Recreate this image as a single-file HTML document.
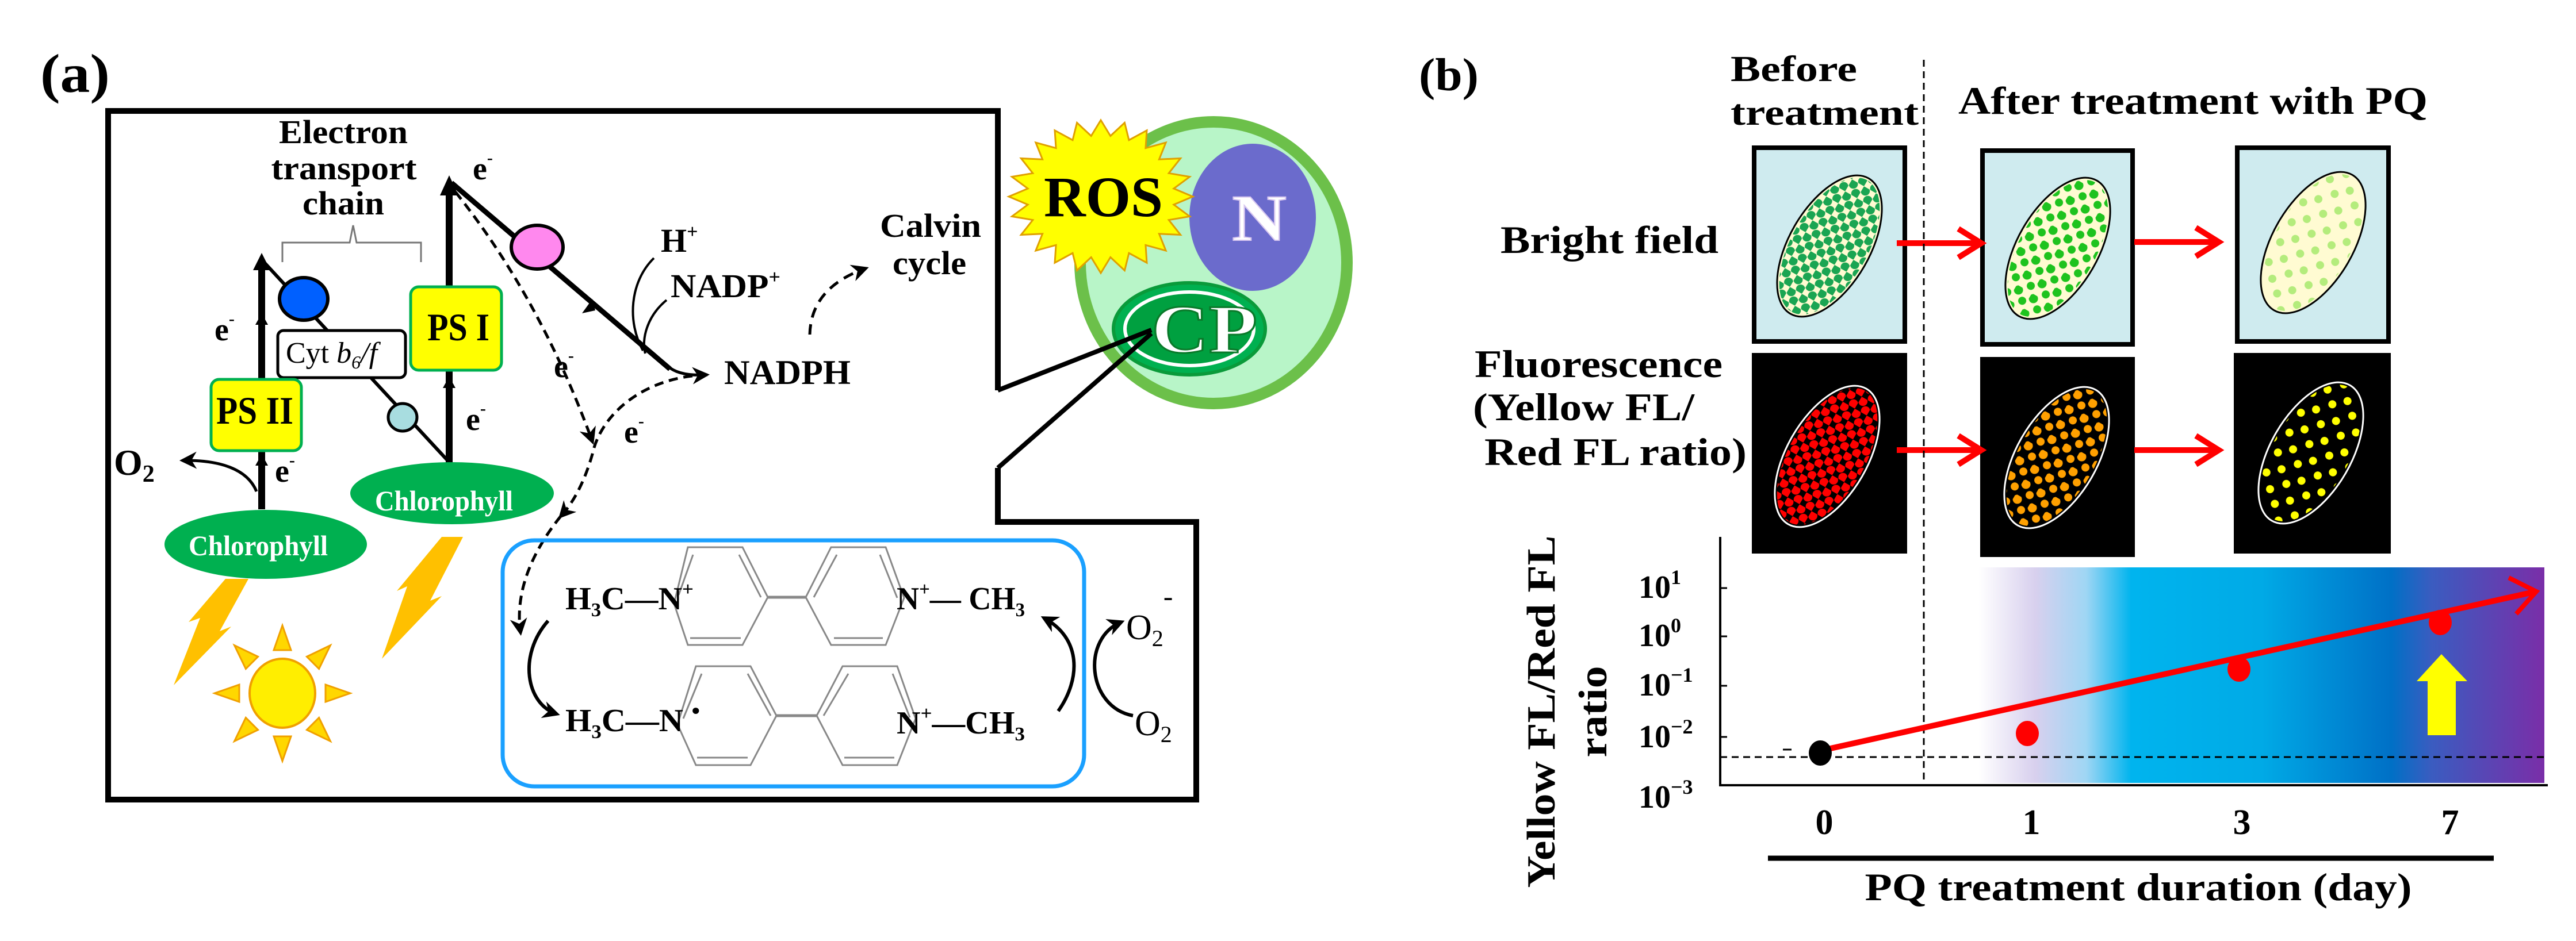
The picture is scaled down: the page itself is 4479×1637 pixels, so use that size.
<!DOCTYPE html>
<html><head><meta charset="utf-8"><style>
html,body{margin:0;padding:0;background:#fff;}
svg{display:block;}
text{font-family:"Liberation Serif",serif;font-weight:bold;}
</style></head><body>
<svg width="4479" height="1637" viewBox="0 0 4479 1637" xmlns="http://www.w3.org/2000/svg">
<defs>
<marker id="ah" viewBox="0 0 10 10" refX="8" refY="5" markerWidth="5" markerHeight="5" orient="auto" markerUnits="userSpaceOnUse" style="overflow:visible">
<path d="M0,0 L10,5 L0,10 L3,5 z" fill="#000"/></marker>
<marker id="ahb" viewBox="0 0 10 10" refX="8" refY="5" markerWidth="30" markerHeight="30" orient="auto" markerUnits="userSpaceOnUse">
<path d="M0,0 L10,5 L0,10 L3,5 z" fill="#000"/></marker>
<marker id="ahr" viewBox="0 0 10 10" refX="9" refY="5" markerWidth="50" markerHeight="50" orient="auto" markerUnits="userSpaceOnUse">
<path d="M0,0 L10,5 L0,10" fill="none" stroke="#f00" stroke-width="2"/></marker>
<linearGradient id="grad" x1="0" y1="0" x2="1" y2="0">
<stop offset="0" stop-color="#ffffff"/><stop offset="0.1" stop-color="#d8d0ee"/><stop offset="0.19" stop-color="#9fd6f4"/><stop offset="0.27" stop-color="#00b4ee"/><stop offset="0.5" stop-color="#00aae6"/><stop offset="0.73" stop-color="#0070c6"/><stop offset="0.8" stop-color="#3a5cc0"/><stop offset="1" stop-color="#7a2ea8"/></linearGradient>
<pattern id="p1" width="24" height="24" patternUnits="userSpaceOnUse"><circle cx="6" cy="6" r="8" fill="#1aa552"/><circle cx="18" cy="18" r="8" fill="#1aa552"/></pattern>
<pattern id="p2" width="30" height="30" patternUnits="userSpaceOnUse"><circle cx="7" cy="7" r="8" fill="#1ec31e"/><circle cx="22" cy="20" r="7" fill="#1ec31e"/></pattern>
<pattern id="p3" width="40" height="40" patternUnits="userSpaceOnUse"><circle cx="10" cy="10" r="7" fill="#b4ec7c"/><circle cx="30" cy="28" r="7" fill="#b4ec7c"/></pattern>
<pattern id="p4" width="24" height="24" patternUnits="userSpaceOnUse"><circle cx="6" cy="6" r="8" fill="#f00"/><circle cx="18" cy="18" r="8" fill="#f00"/></pattern>
<pattern id="p5" width="30" height="30" patternUnits="userSpaceOnUse"><circle cx="7" cy="7" r="8" fill="#ffa000"/><circle cx="22" cy="20" r="7" fill="#ffa000"/></pattern>
<pattern id="p6" width="40" height="40" patternUnits="userSpaceOnUse"><circle cx="10" cy="10" r="7" fill="#ffff00"/><circle cx="30" cy="28" r="7" fill="#ffff00"/></pattern>
</defs>

<!-- ============ PANEL A ============ -->
<text x="70" y="160" font-size="95" textLength="121" lengthAdjust="spacingAndGlyphs">(a)</text>

<!-- cell -->
<ellipse cx="2110" cy="457" rx="232" ry="245" fill="#b8f5c8" stroke="#6cc04a" stroke-width="20"/>
<ellipse cx="2178" cy="378" rx="110" ry="128" fill="#6b6bcc"/>
<text x="2142" y="418" font-size="115" fill="#fff" stroke="#d8c8f0" stroke-width="2" textLength="95" lengthAdjust="spacingAndGlyphs">N</text>
<polygon transform="translate(1914,342) scale(160,133)" fill="#ffff00" stroke="#e0a000" stroke-width="3" vector-effect="non-scaling-stroke" points="1,0 .793,.105 .966,.259 .739,.306 .866,.5 .634,.487 .707,.707 .487,.634 .5,.866 .306,.739 .259,.966 .105,.793 0,1 -.105,.793 -.259,.966 -.306,.739 -.5,.866 -.487,.634 -.707,.707 -.634,.487 -.866,.5 -.739,.306 -.966,.259 -.793,.105 -1,0 -.793,-.105 -.966,-.259 -.739,-.306 -.866,-.5 -.634,-.487 -.707,-.707 -.487,-.634 -.5,-.866 -.306,-.739 -.259,-.966 -.105,-.793 0,-1 .105,-.793 .259,-.966 .306,-.739 .5,-.866 .487,-.634 .707,-.707 .634,-.487 .866,-.5 .739,-.306 .966,-.259 .793,-.105"/>
<text x="1815" y="376" font-size="100" textLength="207" lengthAdjust="spacingAndGlyphs">ROS</text>
<ellipse cx="2068" cy="572" rx="132" ry="80" fill="#00b050" stroke="#0a9a3a" stroke-width="6"/>
<ellipse cx="2068" cy="572" rx="112" ry="64" fill="#00a040" stroke="#fff" stroke-width="6"/>
<text x="2002" y="613" font-size="120" fill="#fff" stroke="#0a7a2a" stroke-width="3" textLength="184" lengthAdjust="spacingAndGlyphs">CP</text>

<!-- outline -->
<path d="M1735,679 L1735,193 L188,193 L188,1391 L2080,1391 L2080,908 L1735,908 L1735,814" fill="none" stroke="#000" stroke-width="10"/>
<line x1="1735" y1="679" x2="2002" y2="574" stroke="#000" stroke-width="8"/>
<line x1="1735" y1="814" x2="2002" y2="580" stroke="#000" stroke-width="8"/>

<!-- ETC label -->
<text x="597" y="249" font-size="58" text-anchor="middle" textLength="224" lengthAdjust="spacingAndGlyphs">Electron</text>
<text x="598" y="312" font-size="58" text-anchor="middle" textLength="253" lengthAdjust="spacingAndGlyphs">transport</text>
<text x="597" y="373" font-size="58" text-anchor="middle" textLength="142" lengthAdjust="spacingAndGlyphs">chain</text>
<path d="M491,456 L491,422 L608,422 L614,392 L620,422 L732,422 L732,456" fill="none" stroke="#777" stroke-width="3"/>

<!-- chain lines -->
<line x1="455" y1="886" x2="455" y2="462" stroke="#000" stroke-width="12"/>
<polygon points="455,440 470,470 440,470" fill="#000"/>
<polygon points="455,545 466,565 444,565" fill="#000"/>
<polygon points="455,790 466,810 444,810" fill="#000"/>
<line x1="458" y1="455" x2="781" y2="804" stroke="#000" stroke-width="6"/>
<line x1="781" y1="806" x2="781" y2="325" stroke="#000" stroke-width="12"/>
<polygon points="781,305 797,340 765,340" fill="#000"/>
<polygon points="781,655 792,675 770,675" fill="#000"/>
<line x1="785" y1="318" x2="1165" y2="642" stroke="#000" stroke-width="9"/>
<polygon points="1030,520 1012,545 1035,540" fill="#000"/>
<path d="M1160,636 Q1180,655 1228,652" fill="none" stroke="#000" stroke-width="5" marker-end="url(#ahb)"/>

<ellipse cx="528" cy="520" rx="42" ry="37" fill="#0060ff" stroke="#000" stroke-width="6"/>
<ellipse cx="700" cy="726" rx="25" ry="24" fill="#a8dde0" stroke="#000" stroke-width="5"/>
<ellipse cx="934" cy="430" rx="45" ry="38" fill="#ff88ee" stroke="#000" stroke-width="6"/>

<rect x="483" y="575" width="222" height="82" rx="10" fill="#fff" stroke="#000" stroke-width="5"/>
<text x="497" y="631" font-size="52" font-weight="normal" style="font-weight:normal">Cyt <tspan font-style="italic">b</tspan><tspan font-style="italic" font-size="32" dy="10">6</tspan><tspan font-style="italic" dy="-10">/f</tspan></text>

<rect x="367" y="660" width="157" height="124" rx="14" fill="#ffff00" stroke="#00b050" stroke-width="5"/>
<text x="376" y="737" font-size="68" textLength="134" lengthAdjust="spacingAndGlyphs">PS II</text>
<rect x="714" y="499" width="158" height="145" rx="14" fill="#ffff00" stroke="#00b050" stroke-width="5"/>
<text x="743" y="592" font-size="68" textLength="108" lengthAdjust="spacingAndGlyphs">PS I</text>

<!-- e- labels -->
<g font-size="56">
<text x="373" y="592">e<tspan font-size="30" dy="-28">-</tspan></text>
<text x="478" y="838">e<tspan font-size="30" dy="-28">-</tspan></text>
<text x="810" y="748">e<tspan font-size="30" dy="-28">-</tspan></text>
<text x="822" y="312">e<tspan font-size="30" dy="-28">-</tspan></text>
<text x="963" y="656">e<tspan font-size="30" dy="-28">-</tspan></text>
<text x="1085" y="770">e<tspan font-size="30" dy="-28">-</tspan></text>
</g>

<!-- O2 left -->
<text x="198" y="826" font-size="64">O<tspan font-size="42" dy="12">2</tspan></text>
<path d="M446,855 C430,815 380,800 318,801" fill="none" stroke="#000" stroke-width="5" marker-end="url(#ahb)"/>

<!-- chlorophyll -->
<ellipse cx="462" cy="947" rx="176" ry="60" fill="#00b050"/>
<text x="328" y="966" font-size="50" fill="#fff" textLength="242" lengthAdjust="spacingAndGlyphs">Chlorophyll</text>
<ellipse cx="786" cy="858" rx="177" ry="54" fill="#00b050"/>
<text x="652" y="888" font-size="50" fill="#fff" textLength="240" lengthAdjust="spacingAndGlyphs">Chlorophyll</text>

<!-- lightning -->
<polygon fill="#ffc000" points="392,1007 432,1007 382,1098 402,1090 302,1192 348,1075 328,1082"/>
<polygon fill="#ffc000" points="768,934 805,934 748,1045 768,1037 664,1146 708,1020 690,1028"/>

<!-- sun -->
<g transform="translate(491,1206)">
<g fill="#ffd700" stroke="#f0a000" stroke-width="3">
<polygon points="-15,-75 15,-75 0,-118"/>
<polygon points="-15,-75 15,-75 0,-118" transform="rotate(45)"/>
<polygon points="-15,-75 15,-75 0,-118" transform="rotate(90)"/>
<polygon points="-15,-75 15,-75 0,-118" transform="rotate(135)"/>
<polygon points="-15,-75 15,-75 0,-118" transform="rotate(180)"/>
<polygon points="-15,-75 15,-75 0,-118" transform="rotate(225)"/>
<polygon points="-15,-75 15,-75 0,-118" transform="rotate(270)"/>
<polygon points="-15,-75 15,-75 0,-118" transform="rotate(315)"/>
</g>
<ellipse cx="0" cy="0" rx="57" ry="60" fill="#ffee00" stroke="#f0a000" stroke-width="4"/>
</g>

<!-- H+, NADP+, NADPH -->
<text x="1149" y="438" font-size="58">H<tspan font-size="34" dy="-24">+</tspan></text>
<text x="1166" y="517" font-size="58" textLength="191" lengthAdjust="spacingAndGlyphs">NADP<tspan font-size="34" dy="-24">+</tspan></text>
<text x="1259" y="668" font-size="60" textLength="220" lengthAdjust="spacingAndGlyphs">NADPH</text>
<path d="M1137,449 C1095,490 1090,560 1118,610" fill="none" stroke="#000" stroke-width="4"/>
<path d="M1159,522 C1125,550 1115,590 1122,615" fill="none" stroke="#000" stroke-width="4"/>
<text x="1618" y="412" font-size="58" text-anchor="middle" textLength="176" lengthAdjust="spacingAndGlyphs">Calvin</text>
<text x="1616" y="477" font-size="58" text-anchor="middle" textLength="128" lengthAdjust="spacingAndGlyphs">cycle</text>
<path d="M1408,582 Q1410,500 1505,467" fill="none" stroke="#000" stroke-width="5" stroke-dasharray="18,12" marker-end="url(#ahb)"/>

<!-- dashed electron paths -->
<g fill="none" stroke="#000" stroke-width="5" stroke-dasharray="16,10">
<path d="M792,334 Q940,520 1030,768" marker-end="url(#ahb)"/>
<path d="M1230,652 C1120,655 1045,720 1030,790 Q1010,860 975,898" marker-end="url(#ahb)"/>
<path d="M975,898 C925,960 895,1030 905,1100" marker-end="url(#ahb)"/>
</g>

<!-- paraquat box -->
<rect x="874" y="940" width="1011" height="428" rx="55" fill="none" stroke="#1aa0ff" stroke-width="7"/>
<g fill="none" stroke="#888" stroke-width="3">
<polygon points="1196,952 1291,952 1335,1039 1291,1122 1196,1122 1172,1050"/>
<polygon points="1445,952 1540,952 1572,1040 1540,1122 1445,1122 1401,1039"/>
<line x1="1335" y1="1039" x2="1401" y2="1039" stroke-width="5"/>
<polygon points="1210,1159 1305,1159 1350,1245 1305,1331 1210,1331 1178,1260"/>
<polygon points="1465,1159 1560,1159 1592,1250 1560,1331 1465,1331 1420,1245"/>
<line x1="1350" y1="1245" x2="1420" y2="1245" stroke-width="5"/>
<line x1="1205" y1="965" x2="1180" y2="1035"/><line x1="1285" y1="965" x2="1323" y2="1039"/>
<line x1="1200" y1="1110" x2="1288" y2="1110"/><line x1="1455" y1="965" x2="1415" y2="1039"/>
<line x1="1450" y1="1110" x2="1535" y2="1110"/><line x1="1530" y1="965" x2="1560" y2="1040"/>
<line x1="1220" y1="1172" x2="1188" y2="1250"/><line x1="1300" y1="1172" x2="1340" y2="1245"/>
<line x1="1212" y1="1318" x2="1300" y2="1318"/><line x1="1475" y1="1172" x2="1432" y2="1245"/>
<line x1="1468" y1="1318" x2="1555" y2="1318"/><line x1="1552" y1="1172" x2="1582" y2="1248"/>
</g>
<g font-size="56" font-weight="normal" style="font-weight:normal">
<text x="983" y="1060" textLength="223" lengthAdjust="spacingAndGlyphs">H<tspan font-size="34" dy="12">3</tspan><tspan dy="-12">C—N</tspan><tspan font-size="34" dy="-24">+</tspan></text>
<text x="1559" y="1060" textLength="223" lengthAdjust="spacingAndGlyphs">N<tspan font-size="34" dy="-24">+</tspan><tspan dy="24">— CH</tspan><tspan font-size="34" dy="12">3</tspan></text>
<text x="983" y="1272" textLength="234" lengthAdjust="spacingAndGlyphs">H<tspan font-size="34" dy="12">3</tspan><tspan dy="-12">C—N </tspan><tspan font-size="40" dy="-22">•</tspan></text>
<text x="1559" y="1276" textLength="223" lengthAdjust="spacingAndGlyphs">N<tspan font-size="34" dy="-24">+</tspan><tspan dy="24">—CH</tspan><tspan font-size="34" dy="12">3</tspan></text>
</g>
<path d="M953,1080 C900,1140 915,1225 968,1242" fill="none" stroke="#000" stroke-width="6" marker-end="url(#ahb)"/>
<path d="M1840,1237 C1880,1180 1880,1110 1815,1075" fill="none" stroke="#000" stroke-width="6" marker-end="url(#ahb)"/>
<path d="M1970,1245 C1890,1230 1880,1110 1950,1082" fill="none" stroke="#000" stroke-width="6" marker-end="url(#ahb)"/>
<text x="1958" y="1112" font-size="62" font-weight="normal" style="font-weight:normal">O<tspan font-size="40" dy="12">2</tspan><tspan font-size="50" dy="-70">-</tspan></text>
<text x="1973" y="1279" font-size="62" font-weight="normal" style="font-weight:normal">O<tspan font-size="40" dy="12">2</tspan></text>

<!-- ============ PANEL B ============ -->
<text x="2467" y="157" font-size="80" textLength="104" lengthAdjust="spacingAndGlyphs">(b)</text>
<text x="3009" y="141" font-size="64" textLength="220" lengthAdjust="spacingAndGlyphs">Before</text>
<text x="3009" y="217" font-size="64" textLength="327" lengthAdjust="spacingAndGlyphs">treatment</text>
<text x="3405" y="198" font-size="68" textLength="816" lengthAdjust="spacingAndGlyphs">After treatment with PQ</text>
<text x="2609" y="440" font-size="68" textLength="379" lengthAdjust="spacingAndGlyphs">Bright field</text>
<text x="2564" y="656" font-size="68" textLength="431" lengthAdjust="spacingAndGlyphs">Fluorescence</text>
<text x="2561" y="731" font-size="68" textLength="385" lengthAdjust="spacingAndGlyphs">(Yellow FL/</text>
<text x="2581" y="809" font-size="68" textLength="456" lengthAdjust="spacingAndGlyphs">Red FL ratio)</text>

<!-- gradient & plot -->
<rect x="3440" y="987" width="984" height="375" fill="url(#grad)"/>

<!-- boxes -->
<g stroke="#000" stroke-width="8">
<rect x="3050" y="257" width="262" height="337" fill="#cfebef"/>
<rect x="3447" y="262" width="261" height="337" fill="#cfebef"/>
<rect x="3890" y="257" width="263" height="337" fill="#cfebef"/>
</g>
<rect x="3046" y="614" width="270" height="349" fill="#000"/>
<rect x="3443" y="621" width="269" height="348" fill="#000"/>
<rect x="3884" y="614" width="273" height="349" fill="#000"/>

<g stroke-width="3">
<ellipse transform="translate(3181,428) rotate(30)" rx="70" ry="136" fill="#fffbd2" stroke="#000"/>
<ellipse transform="translate(3181,428) rotate(30)" rx="66" ry="132" fill="url(#p1)"/>
<ellipse transform="translate(3578,432) rotate(30)" rx="70" ry="136" fill="#fffbd2" stroke="#000"/>
<ellipse transform="translate(3578,432) rotate(30)" rx="66" ry="132" fill="url(#p2)"/>
<ellipse transform="translate(4022,422) rotate(30)" rx="70" ry="136" fill="#fffbd2" stroke="#000"/>
<ellipse transform="translate(4022,422) rotate(30)" rx="66" ry="132" fill="url(#p3)"/>
<ellipse transform="translate(3177,794) rotate(30)" rx="70" ry="136" fill="#000" stroke="#fff"/>
<ellipse transform="translate(3177,794) rotate(30)" rx="66" ry="132" fill="url(#p4)"/>
<ellipse transform="translate(3576,796) rotate(30)" rx="70" ry="136" fill="#000" stroke="#fff"/>
<ellipse transform="translate(3576,796) rotate(30)" rx="66" ry="132" fill="url(#p5)"/>
<ellipse transform="translate(4018,788) rotate(30)" rx="70" ry="136" fill="#000" stroke="#fff"/>
<ellipse transform="translate(4018,788) rotate(30)" rx="66" ry="132" fill="url(#p6)"/>
</g>

<!-- red arrows between images -->
<g stroke="#f00" stroke-width="10" fill="none">
<line x1="3298" y1="423" x2="3440" y2="423"/><polyline points="3405,398 3445,423 3405,448"/>
<line x1="3711" y1="421" x2="3852" y2="421"/><polyline points="3818,396 3858,421 3818,446"/>
<line x1="3298" y1="783" x2="3440" y2="783"/><polyline points="3405,758 3445,783 3405,808"/>
<line x1="3711" y1="783" x2="3852" y2="783"/><polyline points="3818,758 3858,783 3818,808"/>
</g>

<!-- vertical dashed -->
<line x1="3345" y1="104" x2="3345" y2="1362" stroke="#000" stroke-width="3" stroke-dasharray="12,8"/>

<!-- axes -->
<line x1="2991" y1="934" x2="2991" y2="1368" stroke="#000" stroke-width="4"/>
<line x1="2989" y1="1366" x2="4430" y2="1366" stroke="#000" stroke-width="4"/>
<g stroke="#000" stroke-width="3">
<line x1="2991" y1="1023" x2="3003" y2="1023"/><line x1="2991" y1="1107" x2="3003" y2="1107"/>
<line x1="2991" y1="1193" x2="3003" y2="1193"/><line x1="2991" y1="1282" x2="3003" y2="1282"/>
<line x1="3100" y1="1304" x2="3115" y2="1304"/>
</g>
<line x1="2991" y1="1317" x2="4424" y2="1317" stroke="#000" stroke-width="3" stroke-dasharray="12,8"/>
<g font-size="56" font-weight="normal" style="font-weight:normal">
<text x="2849" y="1040">10<tspan font-size="36" dy="-24">1</tspan></text>
<text x="2849" y="1124">10<tspan font-size="36" dy="-24">0</tspan></text>
<text x="2849" y="1210">10<tspan font-size="36" dy="-24">−1</tspan></text>
<text x="2849" y="1300">10<tspan font-size="36" dy="-24">−2</tspan></text>
<text x="2849" y="1405">10<tspan font-size="36" dy="-24">−3</tspan></text>
</g>

<!-- trend line -->
<line x1="3165" y1="1306" x2="4405" y2="1030" stroke="#f00" stroke-width="10"/>
<polyline points="4362,1005 4410,1029 4375,1068" fill="none" stroke="#f00" stroke-width="8"/>
<ellipse cx="3165" cy="1310" rx="20" ry="22" fill="#000"/>
<ellipse cx="3525" cy="1276" rx="20" ry="22" fill="#f00"/>
<ellipse cx="3893" cy="1164" rx="20" ry="22" fill="#f00"/>
<ellipse cx="4243" cy="1083" rx="20" ry="22" fill="#f00"/>
<polygon points="4221,1279 4270,1279 4270,1185 4290,1185 4245,1138 4202,1185 4221,1185" fill="#ffff00"/>

<!-- x axis labels -->
<g font-size="62" text-anchor="middle">
<text x="3172" y="1451">0</text><text x="3532" y="1451">1</text>
<text x="3898" y="1451">3</text><text x="4260" y="1451">7</text>
</g>
<line x1="3074" y1="1493" x2="4336" y2="1493" stroke="#000" stroke-width="9"/>
<text x="3718" y="1566" font-size="68" text-anchor="middle" textLength="951" lengthAdjust="spacingAndGlyphs">PQ treatment duration (day)</text>
<text transform="translate(2703,1238) rotate(-90)" font-size="70" text-anchor="middle" textLength="613" lengthAdjust="spacingAndGlyphs">Yellow FL/Red FL</text>
<text transform="translate(2793,1238) rotate(-90)" font-size="70" text-anchor="middle" textLength="159" lengthAdjust="spacingAndGlyphs">ratio</text>
</svg>
</body></html>
